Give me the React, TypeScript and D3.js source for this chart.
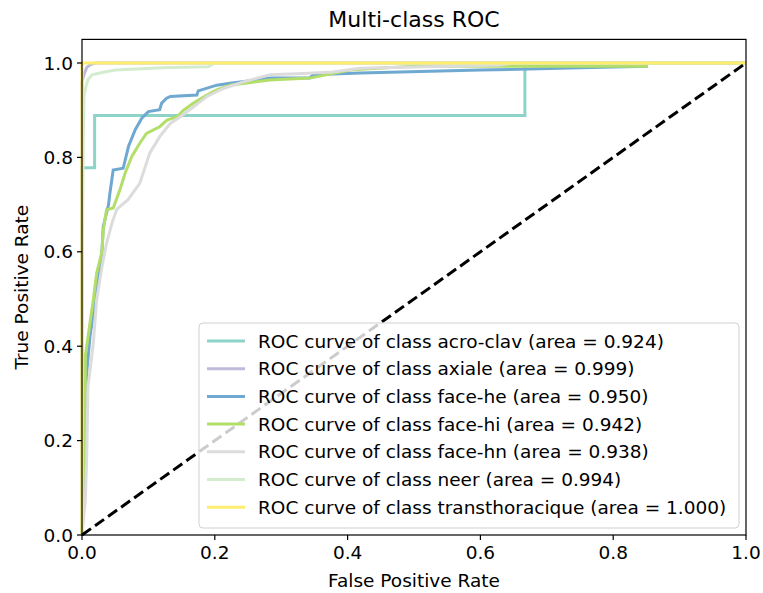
import React from "react";
import * as d3 from "d3";

const classNames = ["acro-clav", "axiale", "face-he", "face-hi", "face-hn", "neer", "transthoracique"];
const areas = ["0.924", "0.999", "0.950", "0.942", "0.938", "0.994", "1.000"];
const colors = ["#8dd3c7", "#bebada", "#6fa8d0", "#b3de69", "#dcdcdc", "#d4ecce", "#ffed6f"];

const acroClav: [number, number][] = [
  [0, 0], [0, 0.778], [0.019, 0.778], [0.019, 0.889], [0.667, 0.889], [0.667, 1.0], [1, 1],
];
const axiale: [number, number][] = [
  [0, 0], [0, 0.96], [0.003, 0.975], [0.007, 0.99], [0.012, 0.996], [0.02, 1], [1, 1],
];
const faceHe: [number, number][] = [
  [0, 0], [0.003, 0.12], [0.005, 0.222], [0.007, 0.343], [0.012, 0.42], [0.017, 0.47],
  [0.022, 0.52], [0.025, 0.547], [0.03, 0.6], [0.032, 0.653], [0.04, 0.7], [0.042, 0.724],
  [0.047, 0.773], [0.062, 0.777], [0.07, 0.823], [0.08, 0.858], [0.09, 0.883], [0.1, 0.897],
  [0.117, 0.901], [0.12, 0.915], [0.127, 0.925], [0.133, 0.929], [0.173, 0.932], [0.175, 0.941],
  [0.203, 0.953], [0.223, 0.957], [0.283, 0.968], [0.343, 0.968], [0.348, 0.975], [0.419, 0.979],
  [0.6, 0.985], [0.75, 0.99], [0.85, 0.993], [0.85, 1.0], [1, 1],
];
const faceHi: [number, number][] = [
  [0, 0], [0.002, 0.12], [0.005, 0.222], [0.005, 0.378], [0.012, 0.449], [0.017, 0.498],
  [0.022, 0.554], [0.03, 0.6], [0.032, 0.646], [0.037, 0.689], [0.047, 0.693], [0.057, 0.731],
  [0.065, 0.767], [0.075, 0.802], [0.087, 0.83], [0.097, 0.851], [0.117, 0.865], [0.128, 0.879],
  [0.143, 0.886], [0.153, 0.9], [0.168, 0.915], [0.188, 0.932], [0.203, 0.943], [0.223, 0.953],
  [0.283, 0.964], [0.343, 0.968], [0.404, 0.985], [0.42, 0.987], [0.5, 0.993], [0.85, 0.993],
  [0.85, 1.0], [1, 1],
];
const faceHn: [number, number][] = [
  [0, 0], [0.005, 0.074], [0.007, 0.159], [0.009, 0.314], [0.017, 0.406], [0.022, 0.498],
  [0.03, 0.568], [0.037, 0.618], [0.045, 0.66], [0.052, 0.689], [0.057, 0.696], [0.069, 0.71],
  [0.087, 0.745], [0.102, 0.809], [0.117, 0.844], [0.133, 0.872], [0.148, 0.886], [0.168, 0.907],
  [0.188, 0.929], [0.213, 0.946], [0.243, 0.96], [0.283, 0.975], [0.333, 0.978], [0.378, 0.981],
  [0.419, 0.989], [0.519, 0.992], [0.63, 0.996], [0.65, 1.0], [1, 1],
];
const neer: [number, number][] = [
  [0, 0], [0, 0.5], [0.002, 0.85], [0.003, 0.93], [0.006, 0.95], [0.009, 0.965], [0.015, 0.975],
  [0.03, 0.98], [0.05, 0.985], [0.09, 0.988], [0.12, 0.99], [0.19, 0.992], [0.2, 1], [1, 1],
];
const transthoracique: [number, number][] = [
  [0, 0], [0, 1], [1, 1],
];
const diagonal: [number, number][] = [[0, 0], [1, 1]];

const series = [acroClav, axiale, faceHe, faceHi, faceHn, neer, transthoracique];
const xTicks = [0, 0.2, 0.4, 0.6, 0.8, 1.0];
const yTicks = [0, 0.2, 0.4, 0.6, 0.8, 1.0];

const W = 763;
const H = 593;
const L = 82;
const R = 746;
const T = 39.4;
const B = 535;
const FONT = "DejaVu Sans, sans-serif";
const FS = 18.5;

export default function App() {
  const x = d3.scaleLinear().domain([0, 1]).range([L, R]);
  const y = d3.scaleLinear().domain([0, 1.05]).range([B, T]);
  const line = d3.line<[number, number]>().x((d) => x(d[0])).y((d) => y(d[1]));

  const legX = 199;
  const legY = 323;
  const legW = 540;
  const legH = 205;
  const rowH = 27.7;
  const firstRow = 341;

  return (
    <svg width={W} height={H} style={{ position: "absolute", left: 0, top: 0, background: "#fff" }}>
      <rect x={0} y={0} width={W} height={H} fill="#fff" />
      <text x={(L + R) / 2} y={27} textAnchor="middle" fontFamily={FONT} fontSize={22} fill="#000">
        Multi-class ROC
      </text>
      <g>
        {series.map((s, i) => (
          <path key={i} d={line(s) || ""} fill="none" stroke={colors[i]} strokeWidth={3} strokeLinejoin="miter" />
        ))}
        <path d={line(diagonal) || ""} fill="none" stroke="#000" strokeWidth={3} strokeDasharray="11,5" />
      </g>
      <rect x={L} y={T} width={R - L} height={B - T} fill="none" stroke="#000" strokeWidth={1.2} />
      {xTicks.map((t) => (
        <g key={"x" + t}>
          <line x1={x(t)} x2={x(t)} y1={B} y2={B + 5} stroke="#000" strokeWidth={1.2} />
          <text x={x(t)} y={B + 24} textAnchor="middle" fontFamily={FONT} fontSize={FS} fill="#000">
            {t.toFixed(1)}
          </text>
        </g>
      ))}
      {yTicks.map((t) => (
        <g key={"y" + t}>
          <line x1={L - 5} x2={L} y1={y(t)} y2={y(t)} stroke="#000" strokeWidth={1.2} />
          <text x={L - 9} y={y(t) + 6.5} textAnchor="end" fontFamily={FONT} fontSize={FS} fill="#000">
            {t.toFixed(1)}
          </text>
        </g>
      ))}
      <text x={(L + R) / 2} y={587} textAnchor="middle" fontFamily={FONT} fontSize={FS} fill="#000">
        False Positive Rate
      </text>
      <text
        transform={`translate(28,${(T + B) / 2}) rotate(-90)`}
        textAnchor="middle"
        fontFamily={FONT}
        fontSize={FS}
        fill="#000"
      >
        True Positive Rate
      </text>
      <rect x={legX} y={legY} width={legW} height={legH} rx={4} fill="#fff" fillOpacity={0.8} stroke="#d0d0d0" strokeWidth={1} />
      {classNames.map((c, i) => (
        <g key={c}>
          <line x1={207} x2={245} y1={firstRow + i * rowH} y2={firstRow + i * rowH} stroke={colors[i]} strokeWidth={3} />
          <text x={258} y={firstRow + i * rowH + 6.5} fontFamily={FONT} fontSize={FS} fill="#000">
            {`ROC curve of class ${c} (area = ${areas[i]})`}
          </text>
        </g>
      ))}
    </svg>
  );
}
